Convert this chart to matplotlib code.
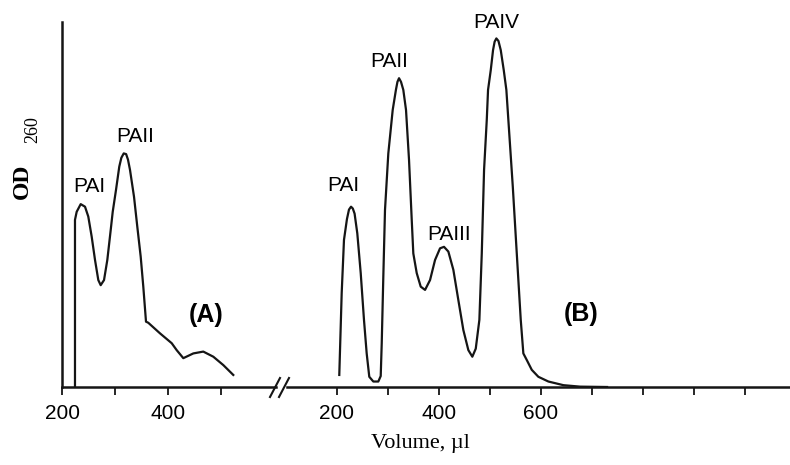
import matplotlib
matplotlib.use('Agg')
from matplotlib import pyplot as plt

# readings off the two elution profiles (volume in ul, OD260 in % of axis height)
a_vol = [224.5, 224.5, 227.7, 235.3, 243.4, 249.6, 256.0, 262.3, 268.5, 273.0, 279.3,
         285.5, 291.9, 295.7, 301.9, 308.1, 312.0, 316.5, 321.0, 324.5, 328.3, 335.9,
         342.1, 348.5, 353.4, 358.5, 362.8, 384.9, 407.0, 416.4, 428.9, 447.8, 466.6,
         485.5, 504.4, 523.2]
a_od = [0.0, 45.8, 48.0, 50.1, 49.4, 46.7, 41.2, 34.8, 29.3, 27.9, 29.3,
        34.8, 43.0, 48.0, 54.0, 60.4, 62.8, 64.0, 63.8, 62.3, 59.5, 52.1,
        43.9, 35.7, 27.5, 17.9, 17.6, 14.7, 12.0, 10.1, 7.9, 9.2, 9.7,
        8.3, 6.0, 3.3]

b_vol = [204.5, 209.2, 213.7, 219.5, 223.5, 227.5, 231.0, 234.5, 239.8, 246.5, 252.9,
         258.2, 263.3, 271.2, 281.0, 285.7, 287.7, 290.8, 294.1, 300.6, 309.2, 315.5,
         318.5, 321.6, 325.5, 330.0, 335.3, 341.2, 346.5, 349.6, 356.3, 364.1, 372.6,
         382.4, 392.2, 402.0, 409.8, 418.3, 428.1, 437.9, 447.7, 457.5, 465.3, 472.0,
         479.1, 483.8, 488.3, 493.6, 496.1, 501.4, 505.9, 509.0, 512.4, 516.5, 521.0,
         526.9, 532.0, 535.9, 544.6, 552.4, 560.2, 565.3, 572.0, 581.8, 594.7, 614.4,
         643.8, 676.5, 729.4]
b_od = [3.3, 25.7, 40.3, 46.0, 48.6, 49.4, 48.9, 47.5, 42.1, 31.2, 18.4,
        9.2, 2.8, 1.5, 1.5, 3.0, 12.0, 30.2, 48.5, 64.0, 75.9, 81.4,
        83.6, 84.6, 83.6, 81.4, 75.9, 62.2, 45.8, 36.6, 31.2, 27.5, 26.6,
        29.3, 34.8, 38.0, 38.4, 37.1, 32.1, 23.8, 15.6, 10.1, 8.3, 10.5,
        18.4, 36.6, 59.5, 73.2, 81.4, 86.8, 92.3, 94.6, 95.5, 94.8, 92.3,
        86.8, 81.4, 73.2, 54.9, 36.6, 18.4, 9.2, 7.4, 4.7, 2.8, 1.5,
        0.5, 0.1, 0.0]

a_peaks = ['PAI', 'PAII']
a_peak_pos = [(251, 54.8), (337.7, 68.5)]
b_peaks = ['PAI', 'PAII', 'PAIII', 'PAIV']
b_peak_pos = [(211.8, 55.1), (302, 89.3), (419.6, 41.9), (511.8, 100.0)]

a_ticks = [200, 300, 400, 500]
a_ticklabels = ['200', '', '400', '']
b_ticks = [200, 300, 400, 500, 600, 700, 800, 900, 1000]
b_ticklabels = ['200', '', '400', '', '600', '', '', '', '']

ink = '#151515'
sans = 'Liberation Sans'
serif = 'Liberation Serif'

fig = plt.figure(figsize=(7.9, 4.65), dpi=100)
ax1 = fig.add_axes([62 / 790, 78 / 465, (276 - 62) / 790, 365 / 465])
ax2 = fig.add_axes([287 / 790, 78 / 465, (790 - 287) / 790, 365 / 465])

ax1.plot(a_vol, a_od, color=ink, lw=1.6, solid_joinstyle='round')
ax2.plot(b_vol, b_od, color=ink, lw=1.6, solid_joinstyle='round')

ax1.set_xlim(200, 603.8)
ax2.set_xlim(102, 1088)
for ax in (ax1, ax2):
    ax.set_ylim(0, 100)
    ax.spines['top'].set_visible(False)
    ax.spines['right'].set_visible(False)
    ax.spines['bottom'].set_linewidth(1.8)
    ax.spines['bottom'].set_color(ink)
    ax.set_yticks([])
    ax.tick_params(axis='x', direction='out', length=6, width=1.3, color=ink,
                   pad=6, labelsize=15)
    ax.patch.set_visible(False)
ax1.spines['left'].set_linewidth(1.8)
ax1.spines['left'].set_color(ink)
ax2.spines['left'].set_visible(False)

ax1.set_xticks(a_ticks)
ax1.set_xticklabels(a_ticklabels, fontfamily=sans)
ax2.set_xticks(b_ticks)
ax2.set_xticklabels(b_ticklabels, fontfamily=sans)

for name, (x, y) in zip(a_peaks, a_peak_pos):
    ax1.text(x, y, name, ha='center', va='center', fontsize=15, family=sans,
             clip_on=False)
for name, (x, y) in zip(b_peaks, b_peak_pos):
    ax2.text(x, y, name, ha='center', va='center', fontsize=15, family=sans,
             clip_on=False)
ax1.text(471.7, 19.7, '(A)', ha='center', va='center', fontsize=18,
         fontweight='bold', family=sans)
ax2.text(678.5, 20, '(B)', ha='center', va='center', fontsize=18,
         fontweight='bold', family=sans)

# axis break marks
for dx in (0, 9):
    fig.add_artist(plt.Line2D([(270 + dx) / 790, (280 + dx) / 790],
                              [1 - 397 / 465, 1 - 378 / 465],
                              color=ink, lw=1.5))

fig.text(22 / 790, 1 - 181 / 465, 'OD', rotation=90, ha='center', va='center',
         fontsize=17, fontweight='bold', family=serif)
fig.text(33 / 790, 1 - 130 / 465, '260', rotation=90, ha='center', va='center',
         fontsize=13, family=serif)
fig.text(420 / 790, 1 - 443 / 465, 'Volume, \u00b5l', ha='center', va='center',
         fontsize=16, family=serif)

fig.savefig('out.png', dpi=100)
